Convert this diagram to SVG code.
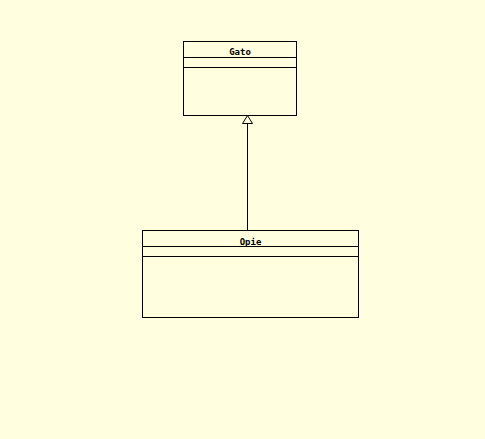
<svg xmlns="http://www.w3.org/2000/svg" width="485" height="439" viewBox="0 0 485 439">
<style>
.box{fill:#FFFFE0;stroke:#000;stroke-width:1}
.ln{stroke:#000;stroke-width:1;fill:none}
.t{font-family:"DejaVu Sans Mono","Liberation Mono",monospace;font-size:9px;font-weight:bold;fill:#000;text-anchor:middle}
</style>
<rect width="485" height="439" fill="#FFFFE0"/>
<g id="connectors">
<line class="ln" x1="247.5" y1="230.5" x2="247.5" y2="124"/>
<polygon points="247.5,115.5 242.5,123.5 252.5,123.5" fill="#FFFFE0" stroke="#000" stroke-width="1"/>
</g>
<g id="Gato">
<rect class="box" x="183.5" y="41.5" width="113" height="74"/>
<line class="ln" x1="183.5" y1="57.5" x2="296.5" y2="57.5"/>
<line class="ln" x1="183.5" y1="67.5" x2="296.5" y2="67.5"/>
<text class="t" x="240" y="55">Gato</text>
</g>
<g id="Opie">
<rect class="box" x="142.5" y="230.5" width="216" height="87"/>
<line class="ln" x1="142.5" y1="246.5" x2="358.5" y2="246.5"/>
<line class="ln" x1="142.5" y1="256.5" x2="358.5" y2="256.5"/>
<text class="t" x="250.5" y="245">Opie</text>
</g>
</svg>
